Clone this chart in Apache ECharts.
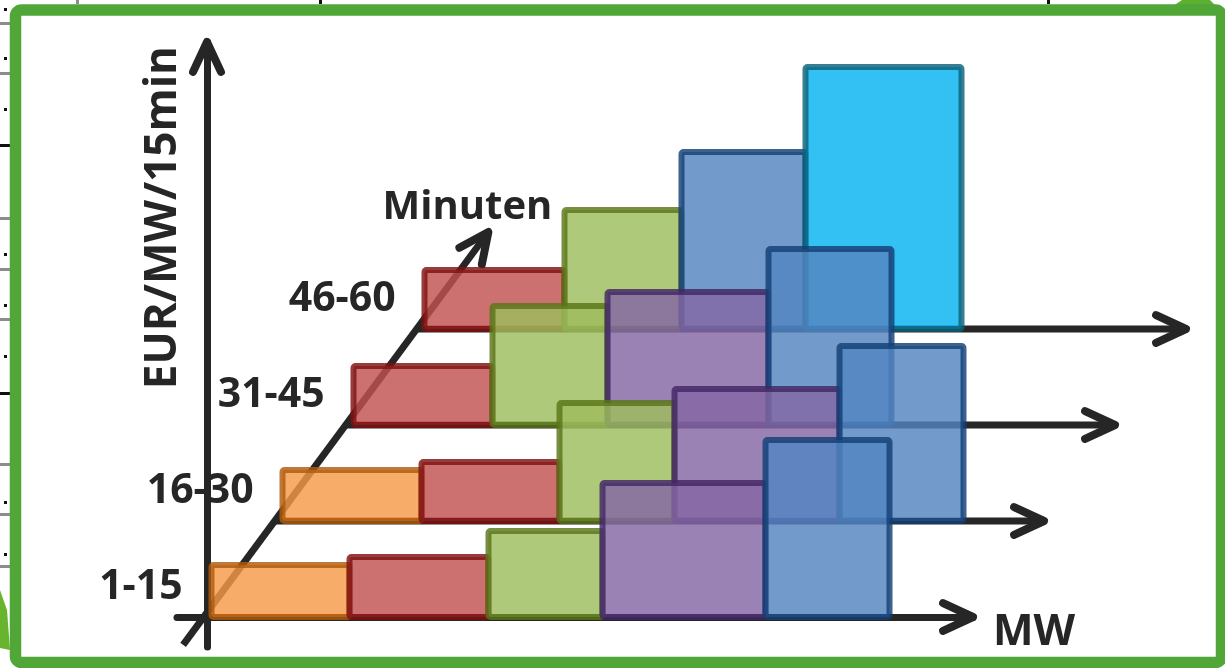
<!DOCTYPE html>
<html><head><meta charset="utf-8">
<script src="https://cdn.jsdelivr.net/npm/echarts@6/dist/echarts.min.js"></script>
<style>html,body{margin:0;padding:0;background:#fff;overflow:hidden}#c{width:1225px;height:668px}</style>
</head><body><div id="c"></div>
<script>
// ---------- data ----------
const quarters = ['1-15', '16-30', '31-45', '46-60'];
const depthTitle = 'Minuten';
const xTitle = 'MW';
const yTitle = 'EUR/MW/15min';
const kinds = ['orange', 'red', 'green', 'purple', 'blue', 'cyan'];
// merit order per quarter hour: plant kind, offered capacity (MW), price (EUR/MW/15min)
const q1Kinds = ['orange', 'red', 'green', 'purple', 'blue'];
const q1Cap   = [13.8, 13.9, 11.4, 16.3, 12.4];
const q1Price = [5.2, 6.0, 8.6, 13.4, 17.7];
const q2Kinds = ['orange', 'red', 'green', 'purple', 'blue'];
const q2Cap   = [13.9, 13.8, 11.5, 16.5, 12.4];
const q2Price = [5.1, 5.9, 11.8, 13.2, 17.5];
const q3Kinds = ['red', 'green', 'purple', 'blue'];
const q3Cap   = [13.9, 11.5, 16.1, 12.3];
const q3Price = [5.9, 11.9, 13.3, 17.6];
const q4Kinds = ['red', 'green', 'blue', 'cyan'];
const q4Cap   = [14.0, 11.7, 12.4, 15.6];
const q4Price = [5.9, 11.9, 17.7, 26.2];

// ---------- styling / projection ----------
const INK = '#262626';
const FONT = '"Open Sans", "DejaVu Sans", sans-serif';
const FILL = { orange: '#F69A49', red: '#C25050', green: '#9DBD5D', purple: '#8466A3', blue: '#5385C1', cyan: '#06B3F1' };
const EDGE = { orange: '#B05A0B', red: '#7F1111', green: '#5A7518', purple: '#422764', blue: '#143F75', cyan: '#0C617A' };
const DEPTH_DX = 7.1, DEPTH_DY = 9.6;   // pseudo-3D shift per quarter (axis units)
const ROW_INSET = 0.45;
const DIAG_X0 = -0.33;
const X_MIN = -3, X_END = 76.6, Y_MIN = -3, Y_END = 57.5;

const rows = [
  [q1Kinds, q1Cap, q1Price], [q2Kinds, q2Cap, q2Price],
  [q3Kinds, q3Cap, q3Price], [q4Kinds, q4Cap, q4Price]
];
// blocks: back rows first so front rows overlay them
const blockData = [];
for (let k = rows.length - 1; k >= 0; k--) {
  const [kk, cap, price] = rows[k];
  let start = 0;
  for (let i = 0; i < cap.length; i++) {
    blockData.push([start, start + cap[i], price[i], k, kinds.indexOf(kk[i])]);
    start += cap[i];
  }
}
// arrows: [x0,y0,x1,y1,drawShaft]
const arrowData = [
  [X_MIN, 0, X_END, 0, 0],
  [0, Y_MIN, 0, Y_END, 0],
  [DIAG_X0 - 0.29 * DEPTH_DX, -0.29 * DEPTH_DY, DIAG_X0 + 4.01 * DEPTH_DX, 4.01 * DEPTH_DY, 1]
];
for (let k = 1; k < quarters.length; k++) {
  arrowData.push([DIAG_X0 + k * DEPTH_DX, k * DEPTH_DY, X_END + k * DEPTH_DX, k * DEPTH_DY, 1]);
}
const labelData = quarters.map((q, k) => [DIAG_X0 + k * DEPTH_DX, k * DEPTH_DY, k]);
labelData.push([DIAG_X0 + 4.01 * DEPTH_DX, 4.01 * DEPTH_DY, -1]);

function renderBlock(params, api) {
  const k = api.value(3);
  const kind = kinds[api.value(4)];
  const x0 = api.value(0) + k * DEPTH_DX + ROW_INSET;
  const x1 = api.value(1) + k * DEPTH_DX + ROW_INSET;
  const yb = k * DEPTH_DY, yt = yb + api.value(2);
  const a = api.coord([x0, yt]), b = api.coord([x1, yb]);
  return {
    type: 'rect',
    shape: { x: a[0], y: a[1], width: b[0] - a[0], height: b[1] - a[1], r: 2 },
    style: { fill: FILL[kind], stroke: EDGE[kind], lineWidth: 6, opacity: 0.82 }
  };
}
function renderArrow(params, api) {
  const s = api.coord([api.value(0), api.value(1)]);
  const e = api.coord([api.value(2), api.value(3)]);
  const dx = e[0] - s[0], dy = e[1] - s[1];
  const len = Math.hypot(dx, dy);
  const bx = -dx / len, by = -dy / len;
  const L = 33, ang = 25 * Math.PI / 180, c = Math.cos(ang), sn = Math.sin(ang);
  const a1 = [e[0] + L * (bx * c - by * sn), e[1] + L * (bx * sn + by * c)];
  const a2 = [e[0] + L * (bx * c + by * sn), e[1] + L * (-bx * sn + by * c)];
  const children = [];
  if (api.value(4) === 1) {
    children.push({ type: 'line', shape: { x1: s[0], y1: s[1], x2: e[0], y2: e[1] },
      style: { stroke: INK, lineWidth: 7, lineCap: 'butt' } });
  }
  children.push({ type: 'polyline', shape: { points: [a1, e, a2] },
    style: { stroke: INK, lineWidth: 8, lineCap: 'round', lineJoin: 'round', fill: 'none' } });
  return { type: 'group', children };
}
function renderLabel(params, api) {
  const k = api.value(2);
  const p = api.coord([api.value(0), api.value(1)]);
  if (k < 0) {
    return { type: 'text', x: p[0] - 21, y: p[1] - 24,
      style: { text: depthTitle, fill: INK, font: 'bold 40px ' + FONT, align: 'center', verticalAlign: 'middle' } };
  }
  return { type: 'text', x: p[0] - 21, y: p[1] - 30,
    style: { text: quarters[k], fill: INK, font: 'bold 41px ' + FONT, align: 'right', verticalAlign: 'middle' } };
}

// ---------- chart ----------
const chart = echarts.init(document.getElementById('c'), null, { renderer: 'canvas' });
const GREEN = '#50A738';
const greyMark = (x, y, w, h, col) => ({ type: 'rect', shape: { x, y, width: w, height: h }, style: { fill: col } });
chart.setOption({
  backgroundColor: '#ffffff',
  animation: false,
  grid: { left: 177, top: 42, width: 796, height: 605, containLabel: false },
  xAxis: {
    type: 'value', min: X_MIN, max: X_END,
    axisLine: { show: true, onZero: true, lineStyle: { color: INK, width: 7 } },
    axisTick: { show: false }, axisLabel: { show: false }, splitLine: { show: false },
    name: xTitle, nameLocation: 'end', nameGap: 20,
    nameTextStyle: { fontFamily: FONT, fontWeight: 'bold', fontSize: 43, color: INK, align: 'left', verticalAlign: 'top', padding: [-6, 0, 0, 0] }
  },
  yAxis: {
    type: 'value', min: Y_MIN, max: Y_END,
    axisLine: { show: true, onZero: true, lineStyle: { color: INK, width: 7 } },
    axisTick: { show: false }, axisLabel: { show: false }, splitLine: { show: false },
    name: yTitle, nameLocation: 'end', nameGap: -4, nameRotate: 90,
    nameTextStyle: { fontFamily: FONT, fontWeight: 'bold', fontSize: 44, color: INK, align: 'right', verticalAlign: 'bottom', padding: [0, 0, 22, 0] }
  },
  series: [
    { type: 'custom', name: 'axes', renderItem: renderArrow, data: arrowData, silent: true, z: 2 },
    { type: 'custom', name: 'bids', renderItem: renderBlock, data: blockData, silent: true, z: 3 },
    { type: 'custom', name: 'labels', renderItem: renderLabel, data: labelData, silent: true, z: 4 }
  ],
  graphic: [
    { type: 'rect', z: 100, shape: { x: 15.5, y: 10, width: 1206, height: 652.5, r: 6 },
      style: { fill: 'none', stroke: GREEN, lineWidth: 11.5 } },
    { type: 'polygon', z: 99, shape: { points: [[1173, 6], [1182, 0], [1210, 0], [1216, 6]] }, style: { fill: '#5EB032' } },
    { type: 'polygon', z: 99, shape: { points: [[0, 590], [7, 610], [10, 650], [0, 648]] }, style: { fill: '#68B42E' } },
    greyMark(0, 22, 10, 3, '#8c8c8c'), greyMark(0, 72, 10, 3, '#8c8c8c'), greyMark(0, 217, 10, 3, '#8c8c8c'),
    greyMark(0, 268, 10, 3, '#8c8c8c'), greyMark(0, 318, 10, 3, '#8c8c8c'), greyMark(0, 463, 10, 3, '#8c8c8c'),
    greyMark(0, 513, 10, 3, '#8c8c8c'), greyMark(0, 565, 10, 3, '#8c8c8c'),
    greyMark(0, 144, 10, 3, '#111'), greyMark(0, 392, 10, 3, '#111'),
    greyMark(4, 8, 3, 3, '#111'), greyMark(4, 57, 3, 3, '#111'), greyMark(4, 108, 3, 3, '#111'),
    greyMark(4, 253, 3, 3, '#111'), greyMark(4, 304, 3, 3, '#111'), greyMark(4, 355, 3, 3, '#111'),
    greyMark(4, 501, 3, 3, '#111'), greyMark(4, 553, 3, 3, '#111'),
    greyMark(76, 0, 3, 4, '#8c8c8c'), greyMark(319, 0, 3, 4, '#111'), greyMark(1047, 0, 3, 4, '#111')
  ]
});
</script>
</body></html>
